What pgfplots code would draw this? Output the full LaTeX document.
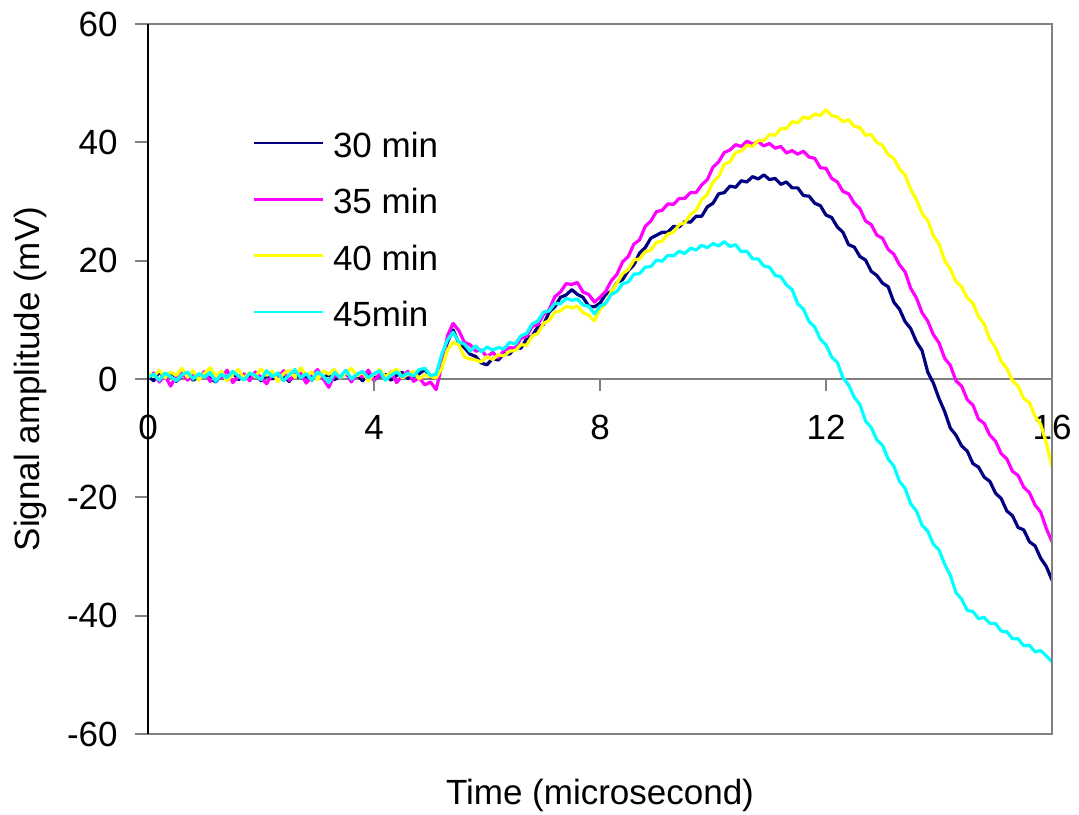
\documentclass[border=0pt]{standalone}
\usepackage{pgfplots}
\usepackage{pgfplotstable}
\pgfplotsset{compat=1.18}
\usepackage{fontspec}
\setmainfont{Liberation Sans}
\definecolor{navyc}{RGB}{0,0,128}
\definecolor{magc}{RGB}{255,0,255}
\definecolor{yelc}{RGB}{255,255,0}
\definecolor{cyac}{RGB}{0,255,255}
\definecolor{framec}{RGB}{128,128,128}
\newcommand{\chartfont}{\fontsize{17.5}{21}\selectfont}

\pgfplotstableread{
x    n      m      y      c
0.0  0.5    0.2    1.0    0.3
0.1  -0.3   1.0    0.4    0.8
0.2  1.2    -0.5   1.5    -0.2
0.3  0.2    0.6    0.2    1.0
0.4  0.8    -1.2   1.2    0.4
0.5  -0.4   0.5    0.6    -0.3
0.6  0.6    1.1    1.8    0.7
0.7  1.0    -0.2   0.3    1.2
0.8  -0.2   0.7    1.4    0.0
0.9  0.4    0.0    -0.2   0.9
1.0  0.9    1.3    1.0    0.3
1.1  0.1    -0.4   1.9    1.1
1.2  -0.5   0.6    0.5    -0.4
1.3  0.7    0.2    1.3    0.8
1.4  0.3    1.5    -0.3   0.2
1.5  1.1    -0.6   0.8    1.3
1.6  -0.1   0.4    1.6    0.5
1.7  0.5    0.9    0.1    -0.2
1.8  0.2    -0.3   1.1    1.0
1.9  0.9    1.2    0.4    0.6
2.0  -0.3   0.3    1.7    -0.1
2.1  0.6    -0.8   0.6    1.4
2.2  0.0    0.8    1.3    0.4
2.3  1.0    0.1    -0.4   1.0
2.4  0.4    1.4    0.9    -0.3
2.5  -0.4   -0.2   1.5    0.7
2.6  0.8    0.6    0.3    1.6
2.7  0.2    1.0    1.9    0.2
2.8  0.5    -0.7   0.7    0.9
2.9  -0.2   0.5    1.2    -0.2
3.0  1.2    1.6    -0.1   1.2
3.1  0.3    0.0    1.4    0.5
3.2  0.7    -1.4   0.8    -0.6
3.3  -0.1   0.7    1.6    1.1
3.4  0.4    0.2    0.2    0.3
3.5  0.9    1.1    1.0    1.5
3.6  0.0    -0.5   1.8    0.0
3.7  0.6    0.9    0.5    0.8
3.8  -0.3   0.3    1.2    1.3
3.9  1.0    1.5    -0.3   0.2
4.0  0.2    -0.3   0.9    0.9
4.1  0.5    0.8    1.6    1.4
4.2  0.8    0.1    0.4    -0.2
4.3  -0.2   1.2    1.1    0.6
4.4  0.6    -0.6   1.7    1.2
4.5  1.1    0.5    0.2    0.4
4.6  0.1    1.3    0.8    1.0
4.7  0.4    -0.4   1.3    0.5
4.8  0.9    0.2    0.0    1.6
4.9  1.6    -1.0   0.7    1.8
5.0  0.3    -0.5   0.4    0.6
5.1  0.5    -1.8   0.2    0.8
5.2  3.4    2.3    1.8    4.2
5.3  6.2    7.3    4.9    6.6
5.4  8.3    9.4    6.2    7.9
5.5  6.1    8.2    5.8    6.3
5.6  5.3    6.2    3.7    5.9
5.7  4.2    5.8    3.4    4.7
5.8  3.8    4.7    3.2    5.6
5.9  2.7    4.9    2.9    4.6
6.0  2.4    3.7    3.8    5.4
6.1  3.5    4.5    3.3    4.9
6.2  3.2    3.6    4.1    5.3
6.3  4.3    4.8    3.9    5.1
6.4  4.2    5.3    4.7    6.2
6.5  5.3    5.2    4.8    5.9
6.6  5.2    6.9    5.8    7.3
6.7  6.8    7.2    5.7    7.7
6.8  7.3    8.9    7.3    9.3
6.9  8.8    9.2    7.7    9.8
7.0  9.2    10.9   9.4    11.3
7.1  11.3   11.7   9.9    11.5
7.2  12.2   13.9   11.3   12.8
7.3  13.8   14.7   11.5   12.7
7.4  14.2   16.1   12.3   13.6
7.5  15.1   16.0   12.0   13.3
7.6  14.3   16.3   12.3   13.5
7.7  13.8   14.7   11.2   12.5
7.8  12.3   14.3   10.8   12.3
7.9  12.2   13.0   9.8    11.0
8.0  12.8   13.8   11.8   12.3
8.1  14.3   14.8   12.7   12.8
8.2  14.8   16.6   14.8   14.3
8.3  16.3   17.7   16.2   14.8
8.4  16.8   19.8   17.8   16.1
8.5  18.3   20.7   18.5   16.4
8.6  19.3   22.8   20.1   17.7
8.7  21.3   23.5   20.3   17.8
8.8  22.2   25.8   21.5   18.9
8.9  23.8   26.7   21.8   19.0
9.0  24.3   28.3   23.1   20.1
9.1  24.8   28.5   23.3   19.9
9.2  24.8   29.6   24.5   20.9
9.3  25.8   29.5   24.8   20.8
9.4  25.7   30.5   26.1   21.6
9.5  26.6   30.5   26.4   21.2
9.6  26.5   31.5   27.8   22.1
9.7  27.5   31.5   28.5   21.8
9.8  27.5   32.8   30.3   22.6
9.9  29.1   33.7   31.2   22.2
10.0 29.7   35.8   33.3   22.9
10.1 31.3   36.7   34.2   22.5
10.2 31.5   38.3   36.3   23.2
10.3 32.6   38.7   36.7   22.4
10.4 32.4   39.6   38.3   22.7
10.5 33.5   39.3   38.5   21.5
10.6 33.3   40.2   39.5   21.6
10.7 34.2   39.7   39.3   20.3
10.8 33.8   40.1   40.3   20.3
10.9 34.5   39.4   40.3   19.1
11.0 33.7   39.8   41.3   18.9
11.1 33.9   39.0   41.2   17.5
11.2 32.9   39.3   42.3   17.3
11.3 33.3   38.2   42.3   15.9
11.4 32.3   38.6   43.5   15.1
11.5 32.3   38.0   43.3   12.7
11.6 31.0   38.5   44.3   11.8
11.7 30.9   37.5   44.0   9.7
11.8 29.7   37.3   44.8   8.8
11.9 29.3   35.7   44.5   6.7
12.0 27.7   35.6   45.5   5.8
12.1 27.3   33.9   44.5   3.7
12.2 25.7   33.3   44.3   2.8
12.3 24.8   31.7   43.5   0.2
12.4 22.7   31.3   43.8   -1.0
12.5 22.3   29.7   42.7   -3.1
12.6 20.7   28.8   42.5   -4.3
12.7 20.1   26.7   41.2   -7.1
12.8 18.2   26.1   41.3   -8.2
12.9 17.5   24.3   40.0   -10.3
13.0 16.2   23.8   39.5   -11.2
13.1 15.6   21.9   37.9   -13.5
13.2 13.0   21.1   37.3   -14.7
13.3 11.8   19.3   35.5   -17.3
13.4 9.7    18.1   34.5   -18.5
13.5 8.5    15.3   32.0   -21.1
13.6 6.3    13.7   30.3   -22.3
13.7 4.8    11.2   28.0   -24.7
13.8 1.2    9.8    26.8   -25.7
13.9 -0.7   7.5    24.2   -27.9
14.0 -3.3   6.1    22.8   -28.9
14.1 -5.5   3.5    20.0   -31.3
14.2 -8.3   2.3    18.6   -33.2
14.3 -9.5   -0.3   16.5   -36.1
14.4 -11.3  -1.2   15.6   -37.2
14.5 -12.2  -3.5   13.7   -39.1
14.6 -14.3  -4.4   12.8   -39.3
14.7 -14.9  -6.8   10.5   -40.5
14.8 -16.6  -7.5   9.3    -40.3
14.9 -17.3  -9.5   6.7    -41.3
15.0 -19.3  -10.5  5.3    -41.3
15.1 -20.2  -12.6  3.0    -42.6
15.2 -22.3  -13.5  1.8    -42.7
15.3 -23.1  -15.6  -0.3   -43.9
15.4 -25.1  -16.3  -1.2   -43.9
15.5 -25.5  -18.3  -3.3   -45.1
15.6 -27.5  -19.2  -4.0   -45.0
15.7 -28.2  -21.3  -6.3   -46.1
15.8 -30.3  -22.5  -7.7   -45.9
15.9 -31.7  -25.3  -10.8  -46.8
16.0 -34.0  -27.5  -14.8  -47.8
}\signaldata

\begin{document}
\begin{tikzpicture}
\path[use as bounding box] (-74pt,-40pt) rectangle (465.5pt,367pt);
\begin{axis}[
  at={(0pt,0pt)}, anchor=south west,
  scale only axis, width=452pt, height=355pt,
  xmin=0, xmax=16, ymin=-60, ymax=60,
  enlargelimits=false,
  clip mode=individual,
  axis x line=middle, axis y line=left,
  x axis line style={-, draw=framec, line width=1pt},
  y axis line style={-, draw=black, line width=0.75pt},
  hide obscured x ticks=false, hide obscured y ticks=false,
  xtick={0,4,8,12,16}, xticklabels={0,4,8,12,16},
  ytick={-60,-40,-20,0,20,40,60}, yticklabels={-60,-40,-20,0,20,40,60},
  minor tick num=0,
  xtick align=outside, ytick align=outside, major tick length=6pt,
  tick style={draw=framec, line width=1pt},
  every tick label/.append style={font=\chartfont},
  xticklabel style={anchor=north, inner sep=0pt, yshift=-12pt},
  yticklabel style={anchor=east, inner sep=0pt, xshift=-9pt},
  xlabel={Time (microsecond)}, ylabel={Signal amplitude (mV)},
  every axis x label/.style={at={(axis description cs:0.5,-0.0859)}, anchor=center, font=\chartfont},
  every axis y label/.style={at={(axis description cs:-0.1305,0.5)}, anchor=center, rotate=90, font=\chartfont},
  legend style={at={(axis description cs:0,1)}, anchor=north west, xshift=52pt, yshift=-54pt,
    draw=none, fill=none, inner sep=0pt, row sep=15.6pt, font=\chartfont,
    nodes={inner xsep=4.5pt, inner ysep=0pt, text height=12.6pt, text depth=0pt}},
  legend cell align=left,
  legend image code/.code={\draw[#1, line width=1.3pt] (0pt,1pt) -- (34.5pt,1pt);},
  every axis plot/.append style={line width=1.6pt, line join=round},
]
\addplot[navyc] table[x=x, y=n] {\signaldata};
\addlegendentry{30 min}
\addplot[magc] table[x=x, y=m] {\signaldata};
\addlegendentry{35 min}
\addplot[yelc] table[x=x, y=y] {\signaldata};
\addlegendentry{40 min}
\addplot[cyac] table[x=x, y=c] {\signaldata};
\addlegendentry{45min}
\draw[framec, line width=1pt] (rel axis cs:0,0) -- (rel axis cs:1,0) -- (rel axis cs:1,1) -- (rel axis cs:0,1);
\pgfplotsinvokeforeach{0,4,8,12,16}{\draw[framec, line width=1pt] (axis cs:#1,0) -- ++(0pt,-6pt);}
\pgfplotsinvokeforeach{-60,-40,-20,0,20,40,60}{\draw[framec, line width=1pt] (axis cs:0,#1) -- ++(-6.5pt,0pt);}
\draw[black, line width=0.75pt] (rel axis cs:0,0) -- (rel axis cs:0,1);
\end{axis}
\end{tikzpicture}
\end{document}
